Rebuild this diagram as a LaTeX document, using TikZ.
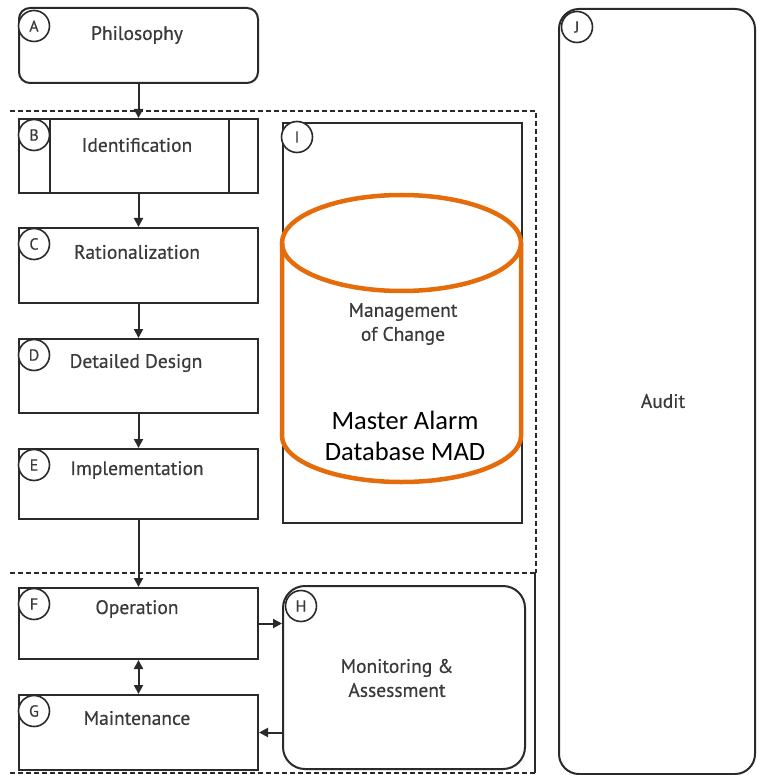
\documentclass[tikz,border=0pt]{standalone}
\usepackage{fontspec}
\setmainfont{PT Sans}
\newfontfamily\lblfont{PT Sans}[FakeBold=0.5]
\newfontfamily\calfont{Carlito}
\usetikzlibrary{arrows.meta,positioning}
\definecolor{ln}{HTML}{2A2A2A}
\definecolor{tx}{HTML}{3A3A3A}
\definecolor{org}{HTML}{E46C0A}
\tikzset{
  box/.style={draw=ln,line width=2pt,fill=white,rectangle,inner sep=0pt,anchor=north west},
  rbox/.style={box,rounded corners=11pt},
  circ/.style={draw=ln,line width=1.6pt,fill=white,circle,minimum size=31pt,inner sep=0pt,text=tx,font=\lblfont\fontsize{16}{16}\selectfont},
  lbl/.style={text=tx,font=\lblfont\fontsize{19.5}{24}\selectfont,align=center,inner sep=0pt},
  arr/.style={draw=ln,line width=2pt,-{Triangle[length=9pt,width=9pt]}},
  darr/.style={draw=ln,line width=2pt,{Triangle[length=9pt,width=9pt]}-{Triangle[length=9pt,width=9pt]}},
  dsh/.style={draw=ln,line width=1.8pt,dash pattern=on 5pt off 3pt}
}
\begin{document}
\begin{tikzpicture}[x=1pt,y=-1pt]
\useasboundingbox[fill=white] (0,0) rectangle (756,775);
% dashed group outlines
\draw[dsh] (10,111) -- (536,111) -- (536,573);
\draw[dsh] (10,573) -- (536,573);
\draw[dsh] (10,773) -- (535,773);
\draw[draw=ln,line width=2pt] (535,573) -- (535,773);
% J audit
\node[box,rounded corners=20pt,minimum width=196pt,minimum height=765pt] (J) at (558,8) {};
\node[lbl] (Jt) at (663,401) {Audit};
\node[circ] (Jc) at (577,27) {J};
% A
\node[rbox,minimum width=239pt,minimum height=75pt] (A) at (18,7) {};
\node[lbl] (At) at (137,35) {Philosophy};
\node[circ] (Ac) at (34,26) {A};
% B
\node[box,minimum width=239pt,minimum height=74pt] (B) at (18,118) {};
\draw[draw=ln,line width=2pt] (B.north west) ++(32,0) coordinate (b1) -- (b1 |- B.south);
\draw[draw=ln,line width=2pt] (B.north east) ++(-30,0) coordinate (b2) -- (b2 |- B.south);
\node[lbl] (Bt) at (137,145) {Identification};
\node[circ] (Bc) at (34,135) {B};
% C
\node[box,minimum width=239pt,minimum height=75pt] (C) at (18,227) {};
\node[lbl] (Ct) at (137,252) {Rationalization};
\node[circ] (Cc) at (34,244) {C};
% D
\node[box,minimum width=239pt,minimum height=74pt] (D) at (18,338) {};
\node[lbl] (Dt) at (136,363) {Detailed Design};
\node[circ] (Dc) at (34,355) {D};
% E
\node[box,minimum width=239pt,minimum height=70pt] (E) at (18,448) {};
\node[lbl] (Et) at (137,470) {Implementation};
\node[circ] (Ec) at (34,465) {E};
% F
\node[box,minimum width=239pt,minimum height=71pt] (F) at (18,587) {};
\node[lbl] (Ft) at (137,609) {Operation};
\node[circ] (Fc) at (34,604) {F};
% G
\node[box,minimum width=239pt,minimum height=75pt] (G) at (18,694) {};
\node[lbl] (Gt) at (137,718) {Maintenance};
\node[circ] (Gc) at (34,711) {G};
% H
\node[box,rounded corners=22pt,minimum width=242pt,minimum height=183pt] (H) at (282,585) {};
\node[lbl] (Ht) at (397,678) {Monitoring \&\\Assessment};
\node[circ] (Hc) at (301,606) {H};
% I
\node[box,minimum width=239pt,minimum height=400pt] (I) at (282,122) {};
\node[circ] (Ic) at (297,137) {I};
% cylinder
\draw[draw=org,line width=4.5pt] (401.5,243) ellipse[x radius=119.5pt,y radius=48pt];
\draw[draw=org,line width=4.5pt] (282,243) -- (282,436) arc[start angle=180,end angle=360,x radius=119.5pt,y radius=46pt] -- (521,243);
\node[lbl] (It) at (403,324) {Management\\of Change};
\node[text=black,font=\calfont\fontsize{26.5}{31}\selectfont,align=center,inner sep=0pt] (Mt) at (405,436) {Master Alarm\\Database MAD};
% connectors
\draw[arr] (A.south) -- (B.north);
\draw[arr] (B.south) -- (C.north);
\draw[arr] (C.south) -- (D.north);
\draw[arr] (D.south) -- (E.north);
\draw[arr] (E.south) -- (F.north);
\draw[darr] (F.south) -- (G.north);
\draw[arr] (F.east) -- (F.east -| H.west);
\draw[arr] (G.east -| H.west) -- (G.east);
\end{tikzpicture}
\end{document}
